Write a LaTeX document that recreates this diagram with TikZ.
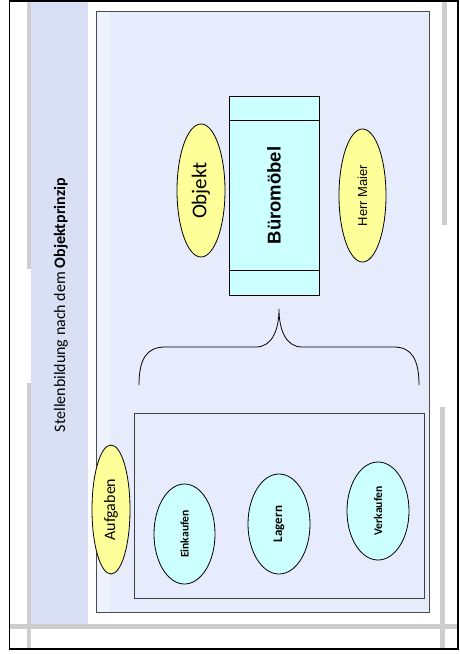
\documentclass[tikz,border=0pt]{standalone}
\usepackage{fontspec}
\setmainfont{Carlito}
\newfontfamily\arialfont{Liberation Sans}
\usetikzlibrary{shapes.geometric,calc}
\definecolor{band}{RGB}{217,223,245}
\definecolor{pane}{RGB}{230,236,252}
\definecolor{rule}{RGB}{206,206,206}
\definecolor{hell}{RGB}{204,255,255}
\definecolor{gelb}{RGB}{255,255,153}
\tikzset{% Stile fuer Knoten und Linien
    ob/.style={ellipse, draw=black, fill=gelb, rotate=90, inner sep=0pt, line width=0.8pt},
    ta/.style={ellipse, draw=black, fill=hell, rotate=90, inner sep=0pt, line width=0.8pt,
        minimum width=100pt, font=\bfseries\fontsize{11.6}{13}\selectfont},
    bx/.style={draw=black, fill=hell, rotate=90, inner sep=0pt, line width=0.9pt},
    gr/.style={draw=none, fill=rule}}

\begin{document}
\begin{tikzpicture}[x=1pt,y=-1pt]
  \useasboundingbox (0,0) rectangle (459,654);
  \fill[white] (0,0) rectangle (459,654);

  % graue Hilfslinien
  \fill[gr] (26.5,1) rectangle (31,269);
  \fill[gr] (26.5,383) rectangle (31,649);
  \fill[gr] (9,624) rectangle (458,629);
  \fill[gr] (442,1) rectangle (447,225);
  \fill[gr] (440,407) rectangle (445,649);
  \fill[band] (31,1) rectangle (88,624);

  \draw[line width=1.8pt] (9.5,0.8) rectangle (457.6,648.8);
  \draw[fill=pane, draw=black!70, line width=0.9pt] (96.5,11) rectangle (429,612);
  \fill[white, opacity=0.35] (97,11.5) rectangle (110,611.5);

  \node[rotate=90, font=\fontsize{16}{19}\selectfont] (titel) at (61,305)
    {Stellenbildung nach dem \textbf{Objektprinzip}};

  \node[bx, minimum width=199pt, minimum height=90pt,
    font=\arialfont\bfseries\fontsize{18.5}{22}\selectfont] (moebel) at (274,195.5) {Büromöbel};
  \draw[line width=0.9pt] ($(moebel.north east)+(0,25)$) -- ($(moebel.south east)+(0,25)$);
  \draw[line width=0.9pt] ($(moebel.north west)+(0,-25)$) -- ($(moebel.south west)+(0,-25)$);

  \node[ob, minimum width=133pt, minimum height=48pt,
    font=\fontsize{21}{25}\selectfont] (objekt) at (201,190.5) {Objekt};
  \node[ob, minimum width=133pt, minimum height=47pt,
    font=\arialfont\fontsize{13}{15}\selectfont] (maier) at (362.5,195.5) {Herr Maier};

  \draw[line width=0.8pt] (139,385) .. controls (139,360) and (146,347) .. (165,347)
    -- (256,347) .. controls (272,347) and (279,330) .. (279,309)
    .. controls (279,330) and (286,347) .. (302,347)
    -- (394,347) .. controls (412,347) and (419,360) .. (419,385);

  \draw[fill=pane, draw=black!75, line width=0.9pt] (134,413) rectangle (424,598);

  \node[ob, minimum width=129pt, minimum height=38pt,
    font=\fontsize{16}{19}\selectfont] (aufgaben) at (111,509.5) {Aufgaben};
  \node[ta, minimum height=61pt] (einkauf) at (184.5,534) {Einkaufen};
  \node[ta, minimum height=62pt, font=\bfseries\fontsize{13}{15}\selectfont] (lager) at (279,524) {Lagern};
  \node[ta, minimum width=98pt, minimum height=62pt] (verkauf) at (378,511) {Verkaufen};
\end{tikzpicture}
\end{document}
